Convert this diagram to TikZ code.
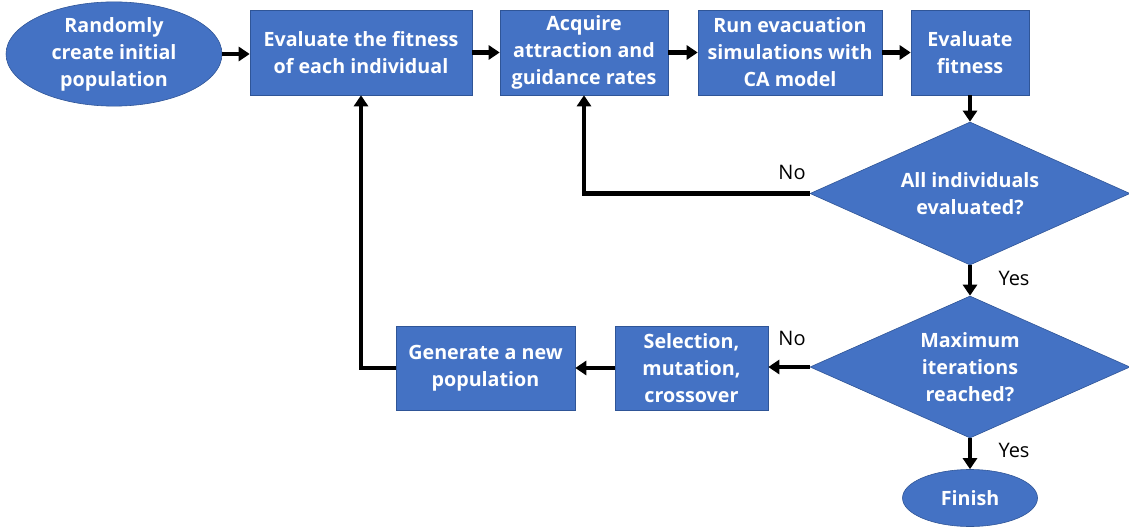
\documentclass[tikz,border=0pt]{standalone}
\usepackage{fontspec}
\setmainfont{Open Sans}
\usetikzlibrary{shapes.geometric,arrows.meta}
\definecolor{fillblue}{HTML}{4472C4}
\definecolor{edgeblue}{HTML}{2F5597}
\begin{document}
\begin{tikzpicture}[x=1pt,y=-1pt,
  base/.style={draw=edgeblue,line width=0.6pt,fill=fillblue,text=white,align=center,inner sep=0pt,font=\fontsize{19.7}{27}\selectfont\bfseries},
  box/.style={base,rectangle},
  oval/.style={base,ellipse},
  dia/.style={base,diamond,aspect=2.24},
  arr/.style={line width=4.5pt,-{Triangle[length=11pt,width=14pt]}},
  lbl/.style={font=\fontsize{20}{24}\selectfont,text=black}]
\useasboundingbox (0,0) rectangle (1129,529);
\node[oval,minimum width=216pt,minimum height=97pt] (start) at (114,54) {Randomly\\create initial\\population};
\node[box,minimum width=222pt,minimum height=85pt] (e1) at (361,52.5) {Evaluate the fitness\\of each individual};
\node[box,minimum width=168pt,minimum height=85pt] (acq) at (584,52.5) {Acquire\\attraction and\\guidance rates};
\node[box,minimum width=184pt,minimum height=85pt] (run) at (790,52.5) {Run evacuation\\simulations with\\CA model};
\node[box,minimum width=118pt,minimum height=85pt] (evf) at (970,52.5) {Evaluate\\fitness};
\node[dia,minimum width=320pt,minimum height=143pt] (d1) at (970,193.5) {All individuals\\evaluated?};
\node[dia,minimum width=320pt,minimum height=142pt] (d2) at (970,367) {Maximum\\iterations\\reached?};
\node[oval,minimum width=135pt,minimum height=57pt] (fin) at (970,498) {Finish};
\node[box,minimum width=153pt,minimum height=84pt] (sel) at (691.5,368) {Selection,\\mutation,\\crossover};
\node[box,minimum width=179pt,minimum height=84pt] (gen) at (485.5,368) {Generate a new\\population};
\draw[arr] (start.east) -- (start.east -| e1.west);
\draw[arr] (e1) -- (acq);
\draw[arr] (acq) -- (run);
\draw[arr] (run) -- (evf);
\draw[arr] (evf) -- (d1);
\draw[arr] (d1.west) -| (acq.south);
\draw[arr] (d1) -- (d2);
\draw[arr] (d2.west) -- (d2.west -| sel.east);
\draw[arr] (sel) -- (gen);
\draw[arr] (gen.west) -| (e1.south);
\draw[arr] (d2) -- (fin);
\node[lbl] (no1) at (792,172) {No};
\node[lbl] (no2) at (792,338) {No};
\node[lbl] (yes1) at (1014,278) {Yes};
\node[lbl] (yes2) at (1014,450) {Yes};
\end{tikzpicture}
\end{document}
